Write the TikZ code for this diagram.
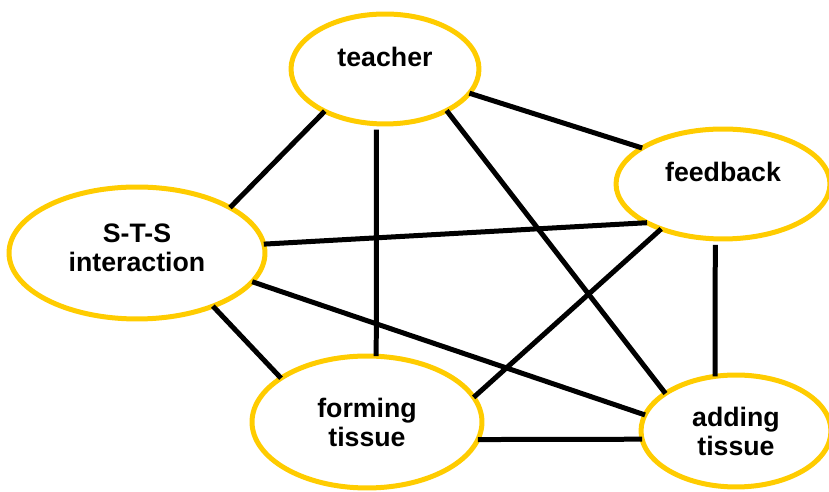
\documentclass[tikz,border=0pt]{standalone}
\usepackage{fontspec}
\setmainfont{Liberation Sans}
\usepackage{xcolor}
\usetikzlibrary{shapes,positioning}
\definecolor{gold}{RGB}{255,204,0}

\begin{document}
\begin{tikzpicture}[
    x=0.02cm, y=-0.02cm,
    concept/.style={ellipse, draw=gold, line width=0.1cm, inner sep=0pt, outer sep=0pt, align=center, font=\fontsize{15.2pt}{16.5pt}\selectfont\bfseries},
    lifted/.style={text height=0.4cm, text depth=0.5cm},
    link/.style={line width=0.1cm}
]
    \useasboundingbox (0,0) rectangle (829,492);

    \node[concept, lifted, minimum width=3.76cm, minimum height=2.2cm] (teacher) at (385,69) {teacher};
    \node[concept, lifted, minimum width=4.28cm, minimum height=2.2cm] (feedback) at (723,184) {feedback};
    \node[concept, text depth=0.2cm, minimum width=5.12cm, minimum height=2.64cm] (sts) at (137,253) {S-T-S\\interaction};
    \node[concept, minimum width=4.6cm, minimum height=2.64cm] (forming) at (367,422) {forming\\tissue};
    \node[concept, minimum width=3.8cm, minimum height=2.24cm] (adding) at (736,431) {adding\\tissue};

    \draw[link] (teacher.215.6) -- (sts.26.8);
    \draw[link, shorten <=0.12cm] (teacher.261.6) -- (forming.82.1);
    \draw[link] (teacher.326.1) -- (adding.152.8);
    \draw[link] (teacher.344.7) -- (feedback.156.6);
    \draw[link] (sts.4.3) -- (feedback.207.1);
    \draw[link] (sts.-35.5) -- (forming.153.4);
    \draw[link] (sts.-14.4) -- (adding.170.3);
    \draw[link] (feedback.216.6) -- (forming.13.8);
    \draw[link, shorten <=0.12cm] (feedback.262.5) -- (adding.111.3);
    \draw[link] (forming.351.5) -- (adding.185.3);
\end{tikzpicture}
\end{document}
